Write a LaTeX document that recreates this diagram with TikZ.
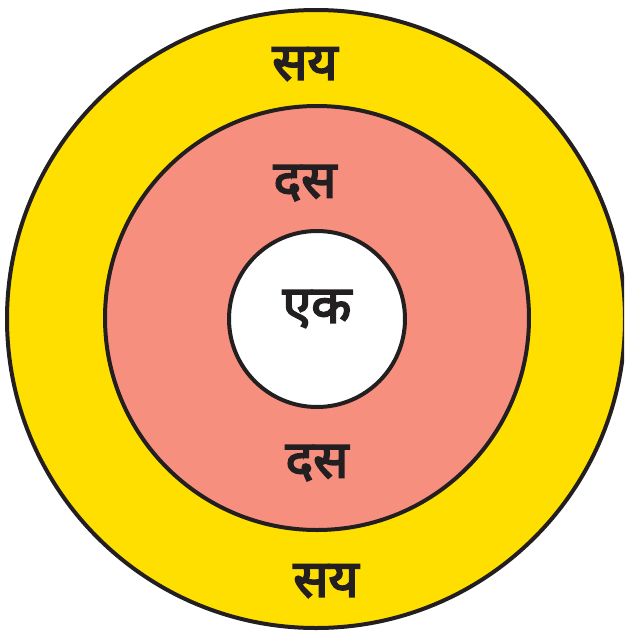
\documentclass[tikz,border=0pt]{standalone}
\usepackage{fontspec}
\newfontfamily\devfont[Script=Devanagari,FakeBold=3.5]{Noto Sans}
\definecolor{ringyellow}{HTML}{FFDF00}
\definecolor{ringsalmon}{HTML}{F78F7E}
\definecolor{ringline}{HTML}{231F20}
\tikzset{
  ring/.style={draw=ringline, line width=4pt},
  lbl/.style={font=\devfont\fontsize{52}{52}\selectfont, text=ringline, inner sep=0pt}
}
\begin{document}
\begin{tikzpicture}[x=1pt,y=-1pt]
\useasboundingbox (0,0) rectangle (624,632);
\begin{scope}
\clip (0,0) rectangle (624,632);
\node[ring, circle, fill=ringyellow, minimum size=618pt, inner sep=0pt] (outer) at (316,319) {};
\end{scope}
\node[ring, circle, fill=ringsalmon, minimum size=424pt, inner sep=0pt] (middle) at (317,318) {};
\node[ring, circle, fill=white, minimum size=176pt, inner sep=0pt] (inner) at (317,319) {};
\node[lbl] (t1) at (305,64) {सय};
\node[lbl] (t2) at (305,183) {दस};
\node[lbl] (t3) at (317,309) {एक};
\node[lbl] (t4) at (317,463) {दस};
\node[lbl] (t5) at (326,581) {सय};
\end{tikzpicture}
\end{document}
